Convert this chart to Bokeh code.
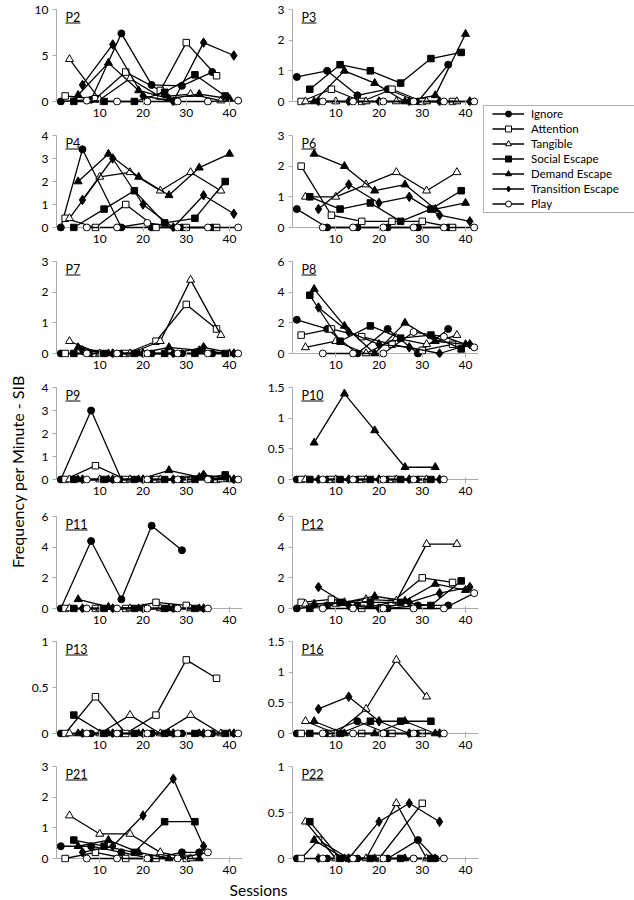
import numpy as np
from bokeh.plotting import figure
from bokeh.models import (ColumnDataSource, FixedTicker, NumeralTickFormatter, Span, Label,
                          Legend, LegendItem, BoxAnnotation, Range1d)
from bokeh.layouts import row, column
from bokeh.embed import file_html
from bokeh.resources import INLINE

# ---------------- data ----------------
conditions = ["Ignore", "Attention", "Tangible", "Social Escape",
              "Demand Escape", "Transition Escape", "Play"]

P2 = {
    "Ignore": ([1, 8, 15, 22, 29, 36], [0, 0.2, 7.4, 1.8, 1.7, 3.2]),
    "Attention": ([2, 9, 16, 24, 30, 37], [0.6, 0.3, 3.2, 1.2, 6.4, 2.8]),
    "Tangible": ([3, 10, 17, 24, 31, 38], [4.6, 0.2, 2.5, 0.5, 0.8, 0.1]),
    "Social Escape": ([4, 11, 18, 25, 32, 39], [0, 0, 0, 1.0, 2.9, 0.6]),
    "Demand Escape": ([5, 12, 19, 26, 33, 40], [0.7, 4.2, 1.2, 0.3, 0.8, 0.3]),
    "Transition Escape": ([6, 13, 20, 27, 34, 41], [1.8, 6.2, 0.6, 0, 6.4, 5.0]),
    "Play": ([7, 14, 21, 28, 35, 42], [0.1, 0, 0, 0, 0, 0.1]),
}
P3 = {
    "Ignore": ([1, 8, 15, 22, 29, 36], [0.8, 1.0, 0.2, 0.4, 0, 1.2]),
    "Attention": ([2, 9, 16, 23, 30, 37], [0, 0.4, 0, 0.4, 0, 0]),
    "Tangible": ([3, 10, 17, 24, 31, 38], [0, 0, 0, 0, 0, 0]),
    "Social Escape": ([4, 11, 18, 25, 32, 39], [0.4, 1.2, 1.0, 0.6, 1.4, 1.6]),
    "Demand Escape": ([5, 12, 19, 26, 33, 40], [0, 1.0, 0.6, 0, 0.2, 2.2]),
    "Transition Escape": ([6, 13, 20, 27, 34, 41], [0, 0, 0, 0, 0, 0]),
    "Play": ([7, 14, 21, 28, 35, 42], [0, 0, 0, 0, 0, 0]),
}
P4 = {
    "Ignore": ([1, 6, 15, 22, 29, 36], [0, 3.4, 0, 0, 0, 0]),
    "Attention": ([2, 9, 16, 23, 30, 37], [0.4, 0, 1.0, 0, 0, 0]),
    "Tangible": ([3, 10, 17, 24, 31, 38], [0.4, 2.2, 2.4, 1.6, 2.4, 1.6]),
    "Social Escape": ([4, 11, 18, 25, 32, 39], [0, 0.8, 1.6, 0.2, 0.4, 2.0]),
    "Demand Escape": ([5, 12, 19, 26, 33, 40], [2.0, 3.2, 2.2, 1.4, 2.6, 3.2]),
    "Transition Escape": ([6, 13, 20, 27, 34, 41], [1.2, 3.0, 1.0, 0, 1.4, 0.6]),
    "Play": ([7, 14, 21, 28, 35, 42], [0, 0, 0.2, 0, 0, 0]),
}
P6 = {
    "Ignore": ([1, 8, 15, 22, 29, 36], [0.6, 0, 0, 0, 0, 0]),
    "Attention": ([2, 9, 16, 23, 30, 37], [2.0, 0.4, 0.2, 0.2, 0.2, 0]),
    "Tangible": ([3, 10, 17, 24, 31, 38], [1.0, 1.0, 1.4, 1.8, 1.2, 1.8]),
    "Social Escape": ([4, 11, 18, 25, 32, 39], [1.0, 0.6, 0.8, 0.2, 0.6, 1.2]),
    "Demand Escape": ([5, 12, 19, 26, 33, 40], [2.4, 2.0, 1.2, 1.4, 0.6, 0.8]),
    "Transition Escape": ([6, 13, 20, 27, 34, 41], [0.6, 1.4, 0.8, 1.0, 0.4, 0.2]),
    "Play": ([7, 14, 21, 28, 35, 42], [0, 0, 0, 0, 0, 0]),
}
P7 = {
    "Ignore": ([1, 8, 15, 22, 29, 36], [0, 0, 0, 0, 0, 0]),
    "Attention": ([2, 9, 16, 23, 30, 37], [0, 0, 0, 0.4, 1.6, 0.8]),
    "Tangible": ([3, 10, 17, 24, 31, 38], [0.4, 0, 0, 0.4, 2.4, 0.6]),
    "Social Escape": ([4, 11, 18, 25, 32, 39], [0, 0, 0, 0, 0, 0]),
    "Demand Escape": ([5, 12, 19, 26, 33, 40], [0.2, 0, 0, 0.2, 0.1, 0]),
    "Transition Escape": ([6, 13, 20, 27, 34, 41], [0.1, 0, 0, 0, 0.2, 0]),
    "Play": ([7, 14, 21, 28, 35, 42], [0, 0, 0, 0, 0, 0]),
}
P8 = {
    "Ignore": ([1, 8, 15, 22, 29, 36], [2.2, 1.6, 0, 1.6, 0, 1.6]),
    "Attention": ([2, 9, 16, 23, 30, 37], [1.2, 1.6, 1.1, 0.6, 0.2, 0.6]),
    "Tangible": ([3, 10, 17, 24, 31, 38], [0.4, 0.8, 0, 1.0, 0.6, 1.2]),
    "Social Escape": ([4, 11, 18, 25, 32, 39], [3.8, 0.8, 1.8, 1.0, 1.2, 0.3]),
    "Demand Escape": ([5, 12, 19, 26, 33, 40], [4.2, 1.8, 0, 2.0, 0.8, 0.6]),
    "Transition Escape": ([6, 13, 20, 27, 34, 41], [3.0, 1.4, 0.6, 0.4, 0, 0.6]),
    "Play": ([7, 14, 21, 28, 35, 42], [0, 0, 0, 1.4, 1.1, 0.4]),
}
P9 = {
    "Ignore": ([1, 8, 15, 22, 29, 36], [0, 3.0, 0, 0, 0, 0]),
    "Attention": ([2, 9, 16, 23, 30, 37], [0, 0.6, 0, 0, 0, 0]),
    "Tangible": ([3, 10, 17, 24, 31, 38], [0, 0, 0, 0, 0, 0]),
    "Social Escape": ([4, 11, 18, 25, 32, 39], [0, 0, 0, 0, 0, 0.2]),
    "Demand Escape": ([5, 12, 19, 26, 33, 40], [0, 0, 0, 0.4, 0.1, 0]),
    "Transition Escape": ([6, 13, 20, 27, 34, 41], [0, 0, 0, 0, 0.2, 0]),
    "Play": ([7, 14, 21, 28, 35, 42], [0, 0, 0, 0, 0, 0]),
}
P10 = {
    "Ignore": ([1, 8, 15, 22, 29], [0, 0, 0, 0, 0]),
    "Attention": ([2, 9, 16, 23, 30], [0, 0, 0, 0, 0]),
    "Tangible": ([3, 10, 17, 24, 31], [0, 0, 0, 0, 0]),
    "Social Escape": ([4, 11, 18, 25, 32], [0, 0, 0, 0, 0]),
    "Demand Escape": ([5, 12, 19, 26, 33], [0.6, 1.4, 0.8, 0.2, 0.2]),
    "Transition Escape": ([6, 13, 20, 27, 34], [0, 0, 0, 0, 0]),
    "Play": ([7, 14, 21, 28, 35], [0, 0, 0, 0, 0]),
}
P11 = {
    "Ignore": ([1, 8, 15, 22, 29], [0, 4.4, 0.6, 5.4, 3.8]),
    "Attention": ([2, 9, 16, 23, 30], [0, 0, 0, 0.4, 0.2]),
    "Tangible": ([3, 10, 17, 24, 31], [0, 0, 0, 0, 0]),
    "Social Escape": ([4, 11, 18, 25, 32], [0, 0, 0, 0, 0]),
    "Demand Escape": ([5, 12, 19, 26, 33], [0.6, 0.1, 0, 0, 0]),
    "Transition Escape": ([6, 13, 20, 27, 34], [0, 0, 0, 0, 0]),
    "Play": ([7, 14, 21, 28, 35], [0, 0, 0, 0, 0]),
}
P12 = {
    "Ignore": ([1, 8, 15, 22, 29, 36], [0, 0.2, 0.2, 0, 0.2, 0.2]),
    "Attention": ([2, 9, 16, 23, 30, 37], [0.4, 0.6, 0, 0.4, 2.0, 1.7]),
    "Tangible": ([3, 10, 17, 24, 31, 38], [0.3, 0.3, 0.6, 0.5, 4.2, 4.2]),
    "Social Escape": ([4, 11, 18, 25, 32, 39], [0, 0.4, 0.4, 0.4, 0.2, 1.8]),
    "Demand Escape": ([5, 12, 19, 26, 33, 40], [0.3, 0.4, 0.8, 0.5, 1.6, 1.2]),
    "Transition Escape": ([6, 13, 20, 27, 34, 41], [1.4, 0.2, 0, 0.4, 1.0, 1.4]),
    "Play": ([7, 14, 21, 28, 35, 42], [0, 0, 0, 0, 0, 1.0]),
}
P13 = {
    "Ignore": ([1, 8, 15, 22, 29, 36], [0, 0, 0, 0, 0, 0]),
    "Attention": ([2, 9, 16, 23, 30, 37], [0, 0.4, 0, 0.2, 0.8, 0.6]),
    "Tangible": ([3, 10, 17, 24, 31, 38], [0, 0, 0.2, 0, 0.2, 0]),
    "Social Escape": ([4, 11, 18, 25, 32, 39], [0.2, 0, 0, 0, 0, 0]),
    "Demand Escape": ([5, 12, 19, 26, 33, 40], [0, 0, 0, 0, 0, 0]),
    "Transition Escape": ([6, 13, 20, 27, 34, 41], [0, 0, 0, 0, 0, 0]),
    "Play": ([7, 14, 21, 28, 35, 42], [0, 0, 0, 0, 0, 0]),
}
P16 = {
    "Ignore": ([1, 8, 15, 22, 29], [0, 0, 0.2, 0, 0]),
    "Attention": ([2, 9, 16, 23, 30], [0, 0, 0, 0, 0]),
    "Tangible": ([3, 10, 17, 24, 31], [0.2, 0, 0.4, 1.2, 0.6]),
    "Social Escape": ([4, 11, 18, 25, 32], [0, 0, 0.2, 0.2, 0.2]),
    "Demand Escape": ([5, 12, 19, 26, 33], [0.2, 0, 0, 0.2, 0]),
    "Transition Escape": ([6, 13, 20, 27, 34], [0.4, 0.6, 0.2, 0, 0]),
    "Play": ([7, 14, 21, 28, 35], [0, 0, 0, 0, 0]),
}
P21 = {
    "Ignore": ([1, 8, 15, 22, 29, 33], [0.4, 0.4, 0.2, 0, 0.2, 0.2]),
    "Attention": ([2, 9, 16, 23, 30], [0, 0.2, 0, 0, 0]),
    "Tangible": ([3, 10, 17, 24, 31], [1.4, 0.8, 0.8, 0.2, 0]),
    "Social Escape": ([4, 11, 18, 25, 32], [0.6, 0.4, 0.2, 1.2, 1.2]),
    "Demand Escape": ([5, 12, 19, 26, 33], [0.4, 0.6, 0.2, 0, 0]),
    "Transition Escape": ([6, 13, 20, 27, 34], [0.2, 0.4, 1.4, 2.6, 0.4]),
    "Play": ([7, 14, 21, 28, 35], [0, 0, 0, 0, 0.2]),
}
P22 = {
    "Ignore": ([1, 8, 15, 22, 29, 33], [0, 0, 0, 0, 0.2, 0]),
    "Attention": ([2, 6, 13, 20, 30], [0, 0.2, 0, 0, 0.6]),
    "Tangible": ([3, 10, 17, 24, 31], [0.4, 0, 0, 0.6, 0]),
    "Social Escape": ([4, 11, 18, 25, 32], [0.4, 0, 0, 0, 0]),
    "Demand Escape": ([5, 12, 19, 26, 33], [0.2, 0, 0, 0, 0]),
    "Transition Escape": ([6, 13, 20, 27, 34], [0, 0, 0.4, 0.6, 0.4]),
    "Play": ([7, 14, 21, 28, 35], [0, 0, 0, 0, 0]),
}

panel_titles = ["P2", "P3", "P4", "P6", "P7", "P8", "P9", "P10",
                "P11", "P12", "P13", "P16", "P21", "P22"]
panel_data = [P2, P3, P4, P6, P7, P8, P9, P10, P11, P12, P13, P16, P21, P22]
y_max = [10, 3, 4, 3, 3, 6, 4, 1.5, 6, 6, 1, 1.5, 3, 1]
y_ticks = [[0, 5, 10], [0, 1, 2, 3], [0, 1, 2, 3, 4], [0, 1, 2, 3], [0, 1, 2, 3],
           [0, 2, 4, 6], [0, 1, 2, 3, 4], [0, 0.5, 1, 1.5], [0, 2, 4, 6], [0, 2, 4, 6],
           [0, 0.5, 1], [0, 0.5, 1, 1.5], [0, 1, 2, 3], [0, 0.5, 1]]
x_ticks = [10, 20, 30, 40]
x_max = 43
y_label = "Frequency per Minute - SIB"
x_label = "Sessions"

# ---------------- style / layout ----------------
FONT = "Lato"
AXC = "#ababab"
STYLE = {
    "Ignore": ("circle", "black", 7),
    "Attention": ("square", "white", 6.5),
    "Tangible": ("triangle", "white", 8),
    "Social Escape": ("square", "black", 6.5),
    "Demand Escape": ("triangle", "black", 8),
    "Transition Escape": ("diamond", "black", 9.5),
    "Play": ("circle", "white", 7),
}
FW, FH, ZOFF = 186, 96, 4
ROW_TOP = [9, 8, 8, 8, 8, 8, 8]
ROW_BOT = [22, 22, 22, 25, 21, 21, 18]
ROW_HS = [t + FH + b for t, b in zip(ROW_TOP, ROW_BOT)]
TOTAL_H = sum(ROW_HS)   # 880


def make_panel(i, side):
    r = i // 2
    ymax = y_max[i]
    ystart = -ymax * ZOFF / (FH - ZOFF)
    p = figure(frame_width=FW, frame_height=FH,
               x_range=Range1d(0, x_max), y_range=Range1d(ystart, ymax),
               output_backend="svg", toolbar_location=None,
               min_border_left=26, min_border_right=(22 if side == 0 else 4),
               min_border_top=ROW_TOP[r], min_border_bottom=ROW_BOT[r],
               background_fill_color="white", border_fill_color="white")
    p.outline_line_color = None
    p.grid.visible = False

    xa = p.xaxis[0]
    xa.ticker = FixedTicker(ticks=x_ticks)
    xa.axis_line_color = None
    xa.major_tick_in = 6
    xa.major_tick_out = 0
    xa.major_tick_line_color = AXC
    xa.minor_tick_line_color = None
    xa.major_label_standoff = 3

    ya = p.yaxis[0]
    ya.ticker = FixedTicker(ticks=y_ticks[i])
    ya.formatter = NumeralTickFormatter(format="0.[0]")
    ya.bounds = (0, ymax)
    ya.axis_line_color = AXC
    ya.major_tick_in = 0
    ya.major_tick_out = 4
    ya.major_tick_line_color = AXC
    ya.minor_tick_line_color = None
    ya.major_label_standoff = 4

    for ax in (xa, ya):
        ax.major_label_text_font = FONT
        ax.major_label_text_font_size = "12px"
        ax.major_label_text_color = "black"

    p.add_layout(Span(location=0, dimension="width", line_color=AXC,
                      line_width=1, level="underlay"))

    data = panel_data[i]
    for name in conditions:
        xs, ys = data[name]
        src = ColumnDataSource(dict(x=xs, y=ys))
        m, fc, sz = STYLE[name]
        p.line("x", "y", source=src, line_color="black", line_width=1.3)
        p.scatter("x", "y", source=src, marker=m, size=sz, fill_color=fc,
                  line_color="black", line_width=1)

    # underlined panel title
    xpp = x_max / FW
    ypp = (ymax - ystart) / FH
    title = panel_titles[i]
    p.add_layout(Label(x=9 * xpp, y=ymax - 7.5 * ypp, text=title,
                       text_font=FONT, text_font_size="12.5px",
                       text_color="black", text_baseline="middle"))
    w = 12.5 * (0.61 + 0.58 * (len(title) - 1))
    p.segment(x0=[9 * xpp], y0=[ymax - 13.5 * ypp], x1=[(9 + w) * xpp],
              y1=[ymax - 13.5 * ypp], line_color="black", line_width=1)
    return p


lefts = [make_panel(i, 0) for i in range(0, 14, 2)]
rights = [make_panel(i, 1) for i in range(1, 14, 2)]

# y label figure
ylab = figure(width=28, height=TOTAL_H, x_range=Range1d(0, 28), y_range=Range1d(0, TOTAL_H),
              x_axis_type=None, y_axis_type=None, min_border=0,
              output_backend="svg", toolbar_location=None)
ylab.outline_line_color = None
ylab.grid.visible = False
ylab.add_layout(Label(x=17, y=TOTAL_H - 471, text=y_label, angle=np.pi / 2,
                      text_align="center", text_baseline="middle",
                      text_font=FONT, text_font_size="16px", text_color="black"))

# legend figure
LEG_W = 154
LEG_H = ROW_HS[0] + ROW_HS[1]
leg = figure(width=LEG_W, height=LEG_H, x_range=Range1d(0, LEG_W), y_range=Range1d(0, LEG_H),
             x_axis_type=None, y_axis_type=None, min_border=0,
             output_backend="svg", toolbar_location=None)
leg.outline_line_color = None
leg.grid.visible = False
leg.add_layout(BoxAnnotation(left=1, right=LEG_W + 20, bottom=LEG_H - 212, top=LEG_H - 105,
                             fill_color="white", fill_alpha=1,
                             line_color="black", line_width=1, level="underlay"))
items = []
for name in conditions:
    m, fc, sz = STYLE[name]
    src = ColumnDataSource(dict(x=[np.nan], y=[np.nan]))
    lr = leg.line("x", "y", source=src, line_color="black", line_width=1.3)
    sr = leg.scatter("x", "y", source=src, marker=m, size=sz, fill_color=fc,
                     line_color="black", line_width=1)
    items.append(LegendItem(label=name, renderers=[lr, sr]))
legend = Legend(items=items, location=(10, LEG_H - 211), orientation="vertical",
                padding=0, spacing=0, margin=0,
                glyph_width=32, glyph_height=15, label_height=15, label_standoff=7,
                border_line_color=None, background_fill_alpha=0,
                label_text_font=FONT, label_text_font_size="11.5px",
                label_text_color="black")
leg.add_layout(legend)

# x label figure
SESS_H = 19
sess = figure(width=28 + 234 + 216 + LEG_W, height=SESS_H,
              x_range=Range1d(0, 28 + 234 + 216 + LEG_W), y_range=Range1d(0, SESS_H),
              x_axis_type=None, y_axis_type=None, min_border=0,
              output_backend="svg", toolbar_location=None)
sess.outline_line_color = None
sess.grid.visible = False
sess.add_layout(Label(x=258, y=SESS_H / 2, text=x_label, text_align="center",
                      text_baseline="middle", text_font=FONT,
                      text_font_size="15.5px", text_color="black"))

layout = column(row(ylab, column(*lefts), column(*rights), column(leg)), sess)

open("out.html", "w").write(file_html(layout, INLINE))
